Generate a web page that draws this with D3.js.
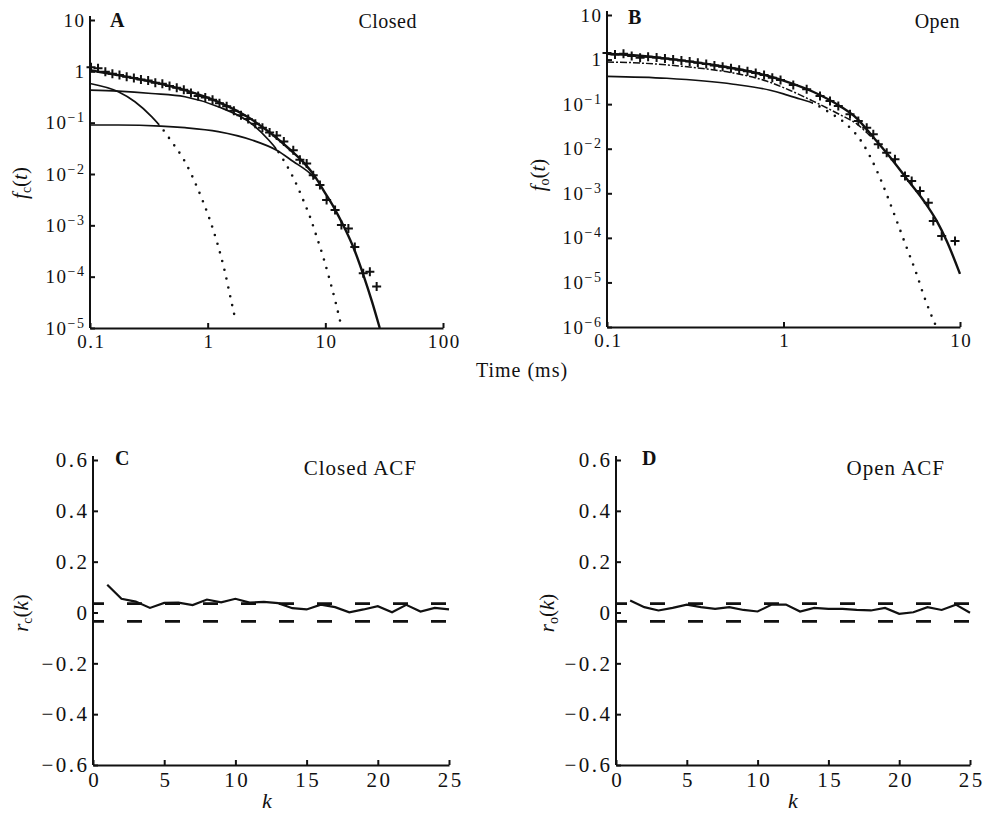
<!DOCTYPE html>
<html>
<head>
<meta charset="utf-8">
<script src="https://d3js.org/d3.v7.min.js"></script>
<style>
   body { margin: 0; background: #fff; }
   svg text { font-family: "Liberation Serif", "Times New Roman", serif; fill: #111; }
</style>
</head>
<body>
<div id="chart"></div>
<script>
// note: dwell-time curves are [time (ms), density] pairs

// panel A: closed dwell times, histogram bins (+)
var closedBinT = [0.102,0.117,0.135,0.155,0.178,0.205,0.236,0.271,0.312,0.359,0.412,0.474,0.546,0.627,0.721,0.830,0.954,1.10,1.26,1.45,1.67,1.92,2.21,2.54,2.92,3.36,3.86,4.44,5.34,6.08,6.94,7.89,9.0,10.25,12.1,13.7,15.7,17.8,21.0,23.9,27.3]
var closedBinF = [1.2,1.15,0.98,0.9,0.85,0.78,0.74,0.69,0.66,0.6,0.57,0.52,0.48,0.44,0.38,0.33,0.31,0.28,0.24,0.21,0.17,0.14,0.118,0.095,0.08,0.064,0.056,0.043,0.029,0.019,0.016,0.0095,0.0061,0.0031,0.0020,0.00101,0.00087,0.00038,0.000116,0.000125,0.000064]

// panel A: fitted total and its three components
var closedFit  = [[0.1,1.05],[0.17,0.85],[0.33,0.63],[0.64,0.43],[1.2,0.26],[2.3,0.12],[3.5,0.06],[5,0.03],[6.5,0.017],[8.2,0.0088],[10,0.0042],[12,0.0021],[14.2,0.001],[17.5,0.00035],[21,0.00011],[25,0.000032],[29,0.00001]]
var closedFast = [[0.1,0.58],[0.174,0.40],[0.241,0.256],[0.334,0.131],[0.401,0.082],[0.494,0.0426],[0.641,0.0174],[0.832,0.00488],[1.026,0.00143],[1.207,0.00045],[1.40,0.000125],[1.546,0.000044],[1.717,0.0000148]]
var closedMid  = [[0.1,0.43],[0.174,0.41],[0.334,0.37],[0.641,0.32],[1.23,0.205],[2.37,0.095],[3.27,0.047],[3.86,0.03],[4.39,0.019],[5.34,0.0085],[6.49,0.0031],[7.40,0.00147],[8.44,0.0006],[9.60,0.00024],[10.9,0.000086],[12.3,0.00003],[13.5,0.0000123]]
var closedSlow = [[0.1,0.09],[0.174,0.09],[0.401,0.086],[0.641,0.08],[1.23,0.067],[2.37,0.046],[3.86,0.029],[5.34,0.0175],[7.4,0.0103],[8.2,0.0082]]
// times where a component line turns from solid to dotted
var closedCross = [0.39, 3.86]

// panel B: open dwell times
var openBinT = [0.1,0.111,0.124,0.138,0.154,0.171,0.191,0.213,0.237,0.264,0.294,0.327,0.365,0.406,0.452,0.504,0.561,0.625,0.696,0.776,0.864,0.962,1.136,1.353,1.61,1.834,2.044,2.381,2.653,2.961,3.227,3.444,3.843,4.281,4.880,5.325,5.934,6.613,7.059,7.876,9.370]
var openBinF = [1.4,1.3,1.35,1.2,1.1,1.15,1.11,1.06,1.0,0.95,0.9,0.85,0.8,0.74,0.69,0.64,0.59,0.55,0.5,0.45,0.39,0.35,0.27,0.216,0.152,0.118,0.091,0.0592,0.0419,0.0296,0.0211,0.0126,0.00815,0.0058,0.00245,0.00189,0.00113,0.00061,0.00024,0.00011,0.000085]

var openFit  = [[0.1,1.35],[0.141,1.25],[0.218,1.05],[0.367,0.8],[0.705,0.5],[1.09,0.3],[1.47,0.19],[2.09,0.09],[2.6,0.048],[3.23,0.018],[4.01,0.0065],[5.0,0.0021],[6.2,0.0007],[7.38,0.00024],[8.41,0.000085],[10,0.0000155]]
var openSlow = [[0.1,0.88],[0.141,0.85],[0.218,0.76],[0.336,0.64],[0.52,0.5],[0.8,0.33],[1.1,0.2],[1.45,0.12],[2.09,0.058],[2.6,0.036],[3.0,0.022],[3.23,0.0165]]
var openFast = [[0.1,0.42],[0.218,0.38],[0.52,0.28],[0.84,0.205],[1.0,0.17],[1.24,0.13],[1.47,0.105],[1.83,0.064],[2.28,0.035],[2.83,0.0126],[3.37,0.0033],[3.84,0.00095],[4.38,0.00024],[4.99,0.00006],[5.69,0.000015],[6.2,0.0000054],[6.75,0.0000022],[7.35,0.000001]]
var openCross = 1.47

// panels C and D: autocorrelation of successive dwell times
var lags      = [1,2,3,4,5,6,7,8,9,10,11,12,13,14,15,16,17,18,19,20,21,22,23,24,25]
var closedAcf = [0.109,0.054,0.043,0.018,0.038,0.039,0.029,0.051,0.040,0.054,0.039,0.042,0.037,0.017,0.012,0.031,0.021,0.001,0.012,0.025,0.001,0.030,0.004,0.018,0.012]
var openAcf   = [0.047,0.021,0.008,0.018,0.031,0.021,0.014,0.021,0.010,0.004,0.031,0.031,0.004,0.018,0.014,0.014,0.010,0.008,0.018,-0.005,0.001,0.021,0.010,0.031,-0.001]
var ciBound   = 0.035

// tick values
var closedTimeTicks = [0.1, 1, 10, 100]
var openTimeTicks   = [0.1, 1, 10]
var closedDensTicks = [1e-5, 1e-4, 1e-3, 1e-2, 1e-1, 1, 10]
var openDensTicks   = [1e-6, 1e-5, 1e-4, 1e-3, 1e-2, 1e-1, 1, 10]
var acfTicks        = [-0.6, -0.4, -0.2, 0, 0.2, 0.4, 0.6]
var lagTicks        = [0, 5, 10, 15, 20, 25]

// global variables
var svgWidth  = 986
var svgHeight = 815
var ink = "#111"
var clipCount = 0

var svg = d3.select("#chart")
.append("svg")
.attr("width", svgWidth)
.attr("height", svgHeight)
var defs = svg.append("defs")

// scales
var xA = d3.scaleLog().domain([0.1, 100]).range([90, 443])
var yA = d3.scaleLog().domain([1e-5, 10]).range([328, 20])
var xB = d3.scaleLog().domain([0.1, 10]).range([607, 960])
var yB = d3.scaleLog().domain([1e-6, 10]).range([327, 15])
var xC = d3.scaleLinear().domain([0, 25]).range([93, 449])
var yC = d3.scaleLinear().domain([-0.6, 0.6]).range([765, 460])
var xD = d3.scaleLinear().domain([0, 25]).range([616, 970])
var yD = yC.copy()

function styleAxis(g, size, spacing) {
   g.attr("font-size", size).attr("font-family", null).attr("letter-spacing", spacing)
   g.selectAll(".domain, .tick line").attr("stroke", ink).attr("stroke-width", 2)
}

function drawAxes(x, y, xTicks, yTicks, xFmt, yFmt, size, spacing, logY) {
   var y0 = y.range()[0], y1 = y.range()[1]
   var gx = svg.append("g")
   .attr("transform", "translate(0," + y0 + ")")
   .call(d3.axisBottom(x).tickValues(xTicks).tickFormat(xFmt)
      .tickSizeInner(-5).tickSizeOuter(0).tickPadding(7))
   styleAxis(gx, size, spacing)
   // centred labels: offset the trailing letter gap
   gx.selectAll(".tick text").attr("dx", spacing / 2)

   var gy = svg.append("g")
   .attr("transform", "translate(" + x.range()[0] + ",0)")
   .call(d3.axisLeft(y).tickValues(yTicks).tickFormat(yFmt)
      .tickSizeInner(-5).tickSizeOuter(0).tickPadding(6 - spacing))
   styleAxis(gy, size, spacing)
   // axis line runs a little past the top tick
   gy.select(".domain").attr("d", "M0," + y0 + "V" + (y1 - 4))

   if (logY) {
      gy.selectAll(".tick text").each(function(d) {
         var e = Math.round(Math.log10(d))
         var t = d3.select(this)
         if (e >= 0) { t.text(e === 1 ? "10" : "1"); return }
         t.text(null)
         t.append("tspan").text("10")
         t.append("tspan").attr("dy", -7).attr("font-size", 14).text("\u2212" + (-e))
      })
   }
}

drawAxes(xA, yA, closedTimeTicks, closedDensTicks, String, String, 19, 1.5, true)
drawAxes(xB, yB, openTimeTicks, openDensTicks, String, String, 19, 1.5, true)
var acfFmt = function(d) { return d === 0 ? "0" : d3.format(".1f")(d) }
drawAxes(xC, yC, lagTicks, acfTicks, String, acfFmt, 21, 2.5, false)
drawAxes(xD, yD, lagTicks, acfTicks, String, acfFmt, 21, 2.5, false)

// dwell-time curves
function curvePath(x, y) {
   return d3.line()
   .x(function(d) { return x(d[0]) })
   .y(function(d) { return y(d[1]) })
   .curve(d3.curveMonotoneX)
}

function drawCurve(x, y, data, width, dash) {
   var p = svg.append("path")
   .datum(data)
   .attr("d", curvePath(x, y))
   .attr("fill", "none")
   .attr("stroke", ink)
   .attr("stroke-width", width)
   if (dash) p.attr("stroke-dasharray", dash)
   return p
}

// one smooth component: solid up to tCross, dotted after it
function drawSplitCurve(x, y, data, tCross, width) {
   var xc = x(tCross)
   var idL = "clipL" + (clipCount++), idR = "clipR" + (clipCount++)
   defs.append("clipPath").attr("id", idL)
   .append("rect").attr("x", 0).attr("y", 0).attr("width", xc).attr("height", svgHeight)
   defs.append("clipPath").attr("id", idR)
   .append("rect").attr("x", xc).attr("y", 0).attr("width", svgWidth - xc).attr("height", svgHeight)
   drawCurve(x, y, data, width).attr("clip-path", "url(#" + idL + ")")
   drawCurve(x, y, data, 2.6, "0,9")
   .attr("stroke-linecap", "round")
   .attr("clip-path", "url(#" + idR + ")")
}

function drawBins(x, y, ts, fs) {
   svg.append("g")
   .selectAll("path")
   .data(d3.zip(ts, fs))
   .enter()
   .append("path")
   .attr("transform", function(d) { return "translate(" + x(d[0]) + "," + y(d[1]) + ")" })
   .attr("d", "M-4.5,0H4.5M0,-4.5V4.5")
   .attr("stroke", ink)
   .attr("stroke-width", 2)
}

// panel A
drawSplitCurve(xA, yA, closedFast, closedCross[0], 1.7)
drawSplitCurve(xA, yA, closedMid, closedCross[1], 1.7)
drawCurve(xA, yA, closedSlow, 1.7)
drawCurve(xA, yA, closedFit, 2.4)
drawBins(xA, yA, closedBinT, closedBinF)

// panel B
drawCurve(xB, yB, openSlow, 1.5, "7,2,2,2")
drawSplitCurve(xB, yB, openFast, openCross, 1.6)
drawCurve(xB, yB, openFit, 2.4)
drawBins(xB, yB, openBinT, openBinF)

// panels C and D: ACF with confidence bounds
function drawAcf(x, y, values) {
   var line = d3.line()
   .x(function(d) { return x(d[0]) })
   .y(function(d) { return y(d[1]) })
   ;[ciBound, -ciBound].forEach(function(b) {
      svg.append("path")
      .datum([[0, b], [25, b]])
      .attr("d", line)
      .attr("stroke", ink)
      .attr("stroke-width", 2.6)
      .attr("stroke-dasharray", "15,23")
      .attr("stroke-dashoffset", 4)
   })
   svg.append("path")
   .datum(d3.zip(lags, values))
   .attr("d", line)
   .attr("fill", "none")
   .attr("stroke", ink)
   .attr("stroke-width", 2.2)
}
drawAcf(xC, yC, closedAcf)
drawAcf(xD, yD, openAcf)

// panel letters and titles
function label(x, y, txt, size, opts) {
   opts = opts || {}
   return svg.append("text")
   .attr("x", x).attr("y", y)
   .attr("font-size", size)
   .attr("font-weight", opts.bold ? "bold" : null)
   .attr("font-style", opts.italic ? "italic" : null)
   .attr("text-anchor", opts.anchor || "start")
   .attr("letter-spacing", opts.spacing || null)
   .text(txt)
}
label(110, 27, "A", 20, {bold: true})
label(417, 28, "Closed", 20, {anchor: "end", spacing: 0.5})
label(628, 24, "B", 20, {bold: true})
label(960, 28, "Open", 20, {anchor: "end", spacing: 0.5})
label(115, 465, "C", 20, {bold: true})
label(417, 475, "Closed ACF", 21, {anchor: "end", spacing: 1})
label(642, 465, "D", 20, {bold: true})
label(945, 475, "Open ACF", 21, {anchor: "end", spacing: 1})
label(522, 377, "Time (ms)", 20, {anchor: "middle", spacing: 1})
label(267, 808, "k", 22, {anchor: "middle", italic: true})
label(793, 808, "k", 22, {anchor: "middle", italic: true})

// rotated y titles such as f_c(t)
function yTitle(cx, cy, main, sub, arg) {
   var t = svg.append("text")
   .attr("transform", "translate(" + cx + "," + cy + ") rotate(-90)")
   .attr("text-anchor", "middle")
   .attr("font-size", 21)
   t.append("tspan").attr("font-style", "italic").text(main)
   t.append("tspan").attr("font-size", 14).attr("dy", 4).text(sub)
   t.append("tspan").attr("dy", -4).text("(")
   t.append("tspan").attr("font-style", "italic").text(arg)
   t.append("tspan").text(")")
}
yTitle(27, 183, "f", "c", "t")
yTitle(545, 175, "f", "o", "t")
yTitle(28, 613, "r", "c", "k")
yTitle(554, 613, "r", "o", "k")
</script>
</body>
</html>
